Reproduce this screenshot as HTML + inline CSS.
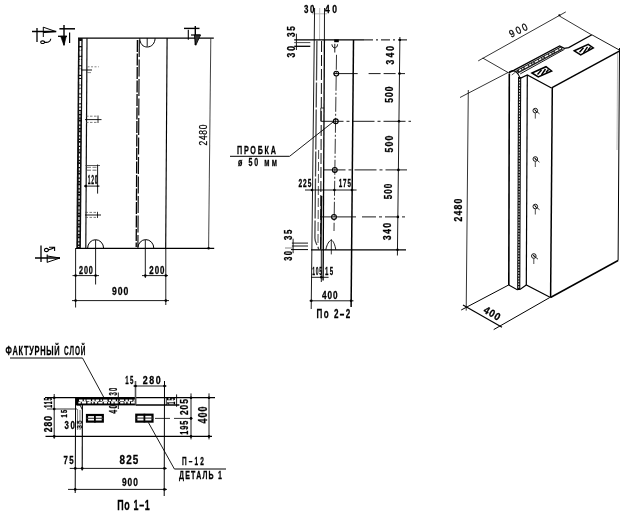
<!DOCTYPE html>
<html><head><meta charset="utf-8"><title>drawing</title>
<style>html,body{margin:0;padding:0;background:#fff;}body{width:640px;height:516px;overflow:hidden;}svg{display:block;font-family:"Liberation Sans",sans-serif;}</style>
</head><body>
<svg width="640" height="516" viewBox="0 0 640 516">
<rect x="0" y="0" width="640" height="516" fill="#fff"/>
<defs><filter id="soft" x="-5%" y="-5%" width="110%" height="110%"><feGaussianBlur stdDeviation="0.35"/></filter></defs>
<g filter="url(#soft)" stroke-linecap="butt">
<g id="v1">
<line x1="78" y1="38.2" x2="213.8" y2="38.2" stroke="#000" stroke-width="1.25"/>
<line x1="76" y1="248.3" x2="214.2" y2="248.3" stroke="#000" stroke-width="1.25"/>
<line x1="80.4" y1="38" x2="78.6" y2="248" stroke="#111" stroke-width="4.6"/>
<line x1="80.5" y1="41" x2="78.7" y2="247" stroke="#fff" stroke-width="1.1" stroke-dasharray="2.2 1.4 1 1.8 3 1.2"/>
<line x1="80.5" y1="41" x2="80.0" y2="110" stroke="#fff" stroke-width="1.6" stroke-dasharray="5 1.5 2 1"/>
<line x1="87.0" y1="38" x2="85.8" y2="248" stroke="#111" stroke-width="1.2"/>
<line x1="137.4" y1="40" x2="136.2" y2="247" stroke="#000" stroke-width="1.3" stroke-dasharray="12 1.5"/>
<line x1="139.3" y1="40" x2="137.9" y2="247" stroke="#111" stroke-width="1.2" stroke-dasharray="17 2.5"/>
<line x1="167.1" y1="38" x2="165.7" y2="248" stroke="#000" stroke-width="1.15"/>
<line x1="210.8" y1="38" x2="208.6" y2="248" stroke="#222" stroke-width="0.85"/>
<circle cx="208.6" cy="248.3" r="1.3" fill="#000"/>
<text transform="translate(207.4,145.5) rotate(-90) scale(0.8014838129496384,1)" x="0" y="0" font-size="10.43" font-weight="normal" fill="#000" stroke="#000" stroke-width="0.25" textLength="26.08" lengthAdjust="spacing">2480</text>
<path d="M139.7,38.2 C140,44 143,47 147.2,47 C152,47 155,43 155.1,38.2" stroke="#000" stroke-width="1.0" fill="none" />
<line x1="147.2" y1="38" x2="147.2" y2="46.5" stroke="#000" stroke-width="0.9"/>
<path d="M87.6,248.3 A8,8.6 0 0 1 103.6,248.3" stroke="#000" stroke-width="1.0" fill="none" />
<path d="M137.8,248.3 A8,8.7 0 0 1 153.8,248.3" stroke="#000" stroke-width="1.0" fill="none" />
<line x1="95.6" y1="240" x2="95.6" y2="284.5" stroke="#000" stroke-width="0.9"/>
<line x1="145.3" y1="240" x2="145.3" y2="278" stroke="#000" stroke-width="0.9"/>
<line x1="72.5" y1="275.6" x2="99" y2="275.6" stroke="#000" stroke-width="0.9"/>
<line x1="142" y1="275.6" x2="168" y2="275.6" stroke="#000" stroke-width="0.9"/>
<circle cx="75.6" cy="275.6" r="1.3" fill="#000"/>
<circle cx="95.6" cy="275.6" r="1.3" fill="#000"/>
<circle cx="145.3" cy="275.6" r="1.3" fill="#000"/>
<circle cx="165.8" cy="275.6" r="1.3" fill="#000"/>
<text transform="translate(79,274) scale(0.7144655704008221,1)" x="0" y="0" font-size="10.14" font-weight="bold" fill="#000" stroke="#000" stroke-width="0.3" textLength="19.46" lengthAdjust="spacing">200</text>
<text transform="translate(149.3,274) scale(0.7804162384378206,1)" x="0" y="0" font-size="10.14" font-weight="bold" fill="#000" stroke="#000" stroke-width="0.3" textLength="19.35" lengthAdjust="spacing">200</text>
<line x1="75.6" y1="248" x2="75.6" y2="307.5" stroke="#000" stroke-width="0.9"/>
<line x1="165.8" y1="248" x2="165.8" y2="305" stroke="#000" stroke-width="0.9"/>
<line x1="72" y1="300.6" x2="169" y2="300.6" stroke="#000" stroke-width="0.9"/>
<circle cx="75.6" cy="300.6" r="1.3" fill="#000"/>
<circle cx="165.8" cy="300.6" r="1.3" fill="#000"/>
<text transform="translate(112,295) scale(0.7744207231617315,1)" x="0" y="0" font-size="11.16" font-weight="bold" fill="#000" stroke="#000" stroke-width="0.3" textLength="21.18" lengthAdjust="spacing">900</text>
<line x1="81" y1="70" x2="92" y2="70" stroke="#000" stroke-width="0.9"/>
<line x1="87.5" y1="66.8" x2="98.8" y2="66.8" stroke="#555" stroke-width="0.7" stroke-dasharray="2 1.5"/>
<line x1="87" y1="72.6" x2="91" y2="72.6" stroke="#555" stroke-width="0.7"/>
<line x1="85" y1="119.6" x2="101.5" y2="119.6" stroke="#000" stroke-width="0.9"/>
<line x1="86" y1="116.2" x2="98" y2="116.2" stroke="#444" stroke-width="0.7" stroke-dasharray="2.5 1.5"/>
<line x1="86" y1="122.4" x2="98" y2="122.4" stroke="#444" stroke-width="0.7" stroke-dasharray="2.5 1.5"/>
<line x1="98" y1="115.5" x2="98" y2="123" stroke="#000" stroke-width="0.8"/>
<line x1="85.5" y1="165.5" x2="100" y2="165.5" stroke="#333" stroke-width="0.8"/>
<line x1="87" y1="167.3" x2="97.5" y2="167.3" stroke="#555" stroke-width="0.8" stroke-dasharray="4 1.5"/>
<line x1="87" y1="170.2" x2="97.5" y2="170.2" stroke="#444" stroke-width="0.8" stroke-dasharray="4 1.5"/>
<line x1="97.6" y1="164.5" x2="97.6" y2="193.6" stroke="#000" stroke-width="0.9"/>
<line x1="84" y1="186.1" x2="99.5" y2="186.1" stroke="#000" stroke-width="0.9"/>
<circle cx="85.8" cy="186.1" r="1.3" fill="#000"/>
<circle cx="97.6" cy="186.1" r="0.9" fill="#000"/>
<text transform="translate(87.8,183.7) scale(0.3935561895311344,1)" x="0" y="0" font-size="12.61" font-weight="bold" fill="#000" stroke="#000" stroke-width="0.3" textLength="24.90" lengthAdjust="spacing">120</text>
<line x1="85" y1="215" x2="101" y2="215" stroke="#000" stroke-width="0.9"/>
<line x1="85.5" y1="212.4" x2="97.5" y2="212.4" stroke="#444" stroke-width="0.7" stroke-dasharray="2.5 1.5"/>
<line x1="85.5" y1="217.4" x2="97.5" y2="217.4" stroke="#444" stroke-width="0.7" stroke-dasharray="2.5 1.5"/>
<line x1="97.5" y1="211.8" x2="97.5" y2="218" stroke="#000" stroke-width="0.8"/>
<line x1="32" y1="31.5" x2="56.3" y2="31.5" stroke="#000" stroke-width="1.5"/>
<line x1="37" y1="28" x2="37" y2="42" stroke="#000" stroke-width="1.3"/>
<path d="M43.3,27.2 L56,31.6 L43.3,32.6" stroke="#000" stroke-width="1.0" fill="none" />
<line x1="43.3" y1="27" x2="43.3" y2="37" stroke="#000" stroke-width="1.0"/>
<path d="M44.5,42.2 A1.9,1.1 0 1 0 40.8,42.2 A1.9,1.1 0 1 0 44.5,42.2 C47,42.6 50.5,42.6 50.8,38.8" stroke="#000" stroke-width="1.1" fill="none" />
<line x1="59.4" y1="28.8" x2="75" y2="28.8" stroke="#000" stroke-width="1.5"/>
<line x1="64" y1="25" x2="64" y2="45" stroke="#000" stroke-width="1.4"/>
<line x1="58" y1="36.3" x2="67" y2="36.3" stroke="#000" stroke-width="1.3"/>
<path d="M60.6,36.3 L66.3,36.3 L64,45.6 Z" stroke="#000" stroke-width="0.6" fill="#000" />
<line x1="69.6" y1="32.5" x2="69.6" y2="43" stroke="#000" stroke-width="1.2"/>
<line x1="184" y1="28.4" x2="199.5" y2="28.4" stroke="#000" stroke-width="1.4"/>
<line x1="195.3" y1="26" x2="195.3" y2="45" stroke="#000" stroke-width="1.4"/>
<line x1="188.3" y1="29.8" x2="188.3" y2="39.7" stroke="#000" stroke-width="1.1"/>
<line x1="191" y1="35" x2="200.5" y2="35" stroke="#000" stroke-width="1.2"/>
<path d="M194.4,35 L200.5,35 L195.8,45.3 Z" stroke="#000" stroke-width="0.8" fill="#333" />
<line x1="41" y1="245.6" x2="41" y2="262" stroke="#000" stroke-width="1.3"/>
<line x1="35" y1="258" x2="60" y2="258" stroke="#000" stroke-width="1.5"/>
<line x1="47.2" y1="254.4" x2="47.2" y2="262.5" stroke="#000" stroke-width="1.1"/>
<path d="M47.2,256 L60,258 L47.2,262.3" stroke="#000" stroke-width="1.0" fill="none" />
<path d="M48.2,250 A1.9,1.2 0 1 0 44.6,250 A1.9,1.2 0 1 0 48.2,250 C50,249.5 53,249 54.4,247.2 M49,247.2 L54.6,247.2 L54.6,251" stroke="#000" stroke-width="1.1" fill="none" />
</g>
<g id="v2">
<text transform="translate(304,13) scale(0.7831641829393627,1)" x="0" y="0" font-size="10.14" font-weight="bold" fill="#000" stroke="#000" stroke-width="0.3" textLength="13.28" lengthAdjust="spacing">30</text>
<text transform="translate(325,13) scale(0.84,1)" x="0" y="0" font-size="10.14" font-weight="bold" fill="#000" stroke="#000" stroke-width="0.3" textLength="14.17" lengthAdjust="spacing">40</text>
<line x1="312" y1="13.8" x2="327" y2="13.8" stroke="#999" stroke-width="0.7"/>
<line x1="314.6" y1="8" x2="311.2" y2="309" stroke="#000" stroke-width="0.9"/>
<line x1="319.7" y1="8" x2="319.5" y2="40" stroke="#aaa" stroke-width="0.8"/>
<line x1="324.5" y1="8" x2="324.4" y2="40" stroke="#000" stroke-width="0.9"/>
<line x1="294.2" y1="39.9" x2="364" y2="39.9" stroke="#000" stroke-width="1.25"/>
<line x1="364" y1="39.9" x2="407" y2="39.9" stroke="#000" stroke-width="1.0" stroke-dasharray="9 3 2 3"/>
<path d="M316.9,40.5 L314.9,238 C315,244 317.5,244 318.7,249.5" stroke="#444" stroke-width="1.3" fill="none" stroke-dasharray="40 2 25 2" />
<line x1="318.6" y1="150" x2="318.0" y2="244" stroke="#222" stroke-width="0.8" stroke-dasharray="9 3"/>
<line x1="321.6" y1="41" x2="320.6" y2="249" stroke="#111" stroke-width="1.0" stroke-dasharray="11 3"/>
<line x1="324.4" y1="40" x2="323.1" y2="280.6" stroke="#000" stroke-width="1.3"/>
<line x1="321.3" y1="250" x2="321.3" y2="282" stroke="#000" stroke-width="0.9"/>
<line x1="321.5" y1="196" x2="320.8" y2="249.5" stroke="#111" stroke-width="1.6"/>
<path d="M324,108 L320.8,108 L320.8,121" stroke="#000" stroke-width="0.8" fill="none" />
<line x1="336.5" y1="54.8" x2="334.0" y2="231" stroke="#000" stroke-width="0.8" stroke-dasharray="15 2 2 2"/>
<circle cx="336.3" cy="73.6" r="2.4" fill="none" stroke="#000" stroke-width="1.15"/>
<circle cx="335.8" cy="121.3" r="2.4" fill="none" stroke="#000" stroke-width="1.15"/>
<circle cx="334.8" cy="169.9" r="2.4" fill="none" stroke="#000" stroke-width="1.15"/>
<circle cx="334.0" cy="216.9" r="2.4" fill="none" stroke="#000" stroke-width="1.15"/>
<rect x="334.2" y="39.4" width="4.6" height="2.8" fill="#000"/>
<path d="M331.9,44.3 C332.2,47 333.5,47.8 334.8,47.8 C336.2,47.8 337.3,47 337.6,44.3 M334.8,43.8 L334.8,52.5" stroke="#000" stroke-width="0.9" fill="none" />
<line x1="353.5" y1="39.9" x2="351.1" y2="307" stroke="#000" stroke-width="1.5"/>
<line x1="399.9" y1="37" x2="397.4" y2="255.5" stroke="#000" stroke-width="0.9"/>
<circle cx="399.9" cy="39.9" r="1.2" fill="#000"/>
<circle cx="399.5" cy="73.6" r="1.3" fill="#000"/>
<circle cx="399.0" cy="121.3" r="1.3" fill="#000"/>
<circle cx="398.4" cy="169.9" r="1.3" fill="#000"/>
<circle cx="397.9" cy="216.9" r="1.3" fill="#000"/>
<circle cx="397.5" cy="249.8" r="1.2" fill="#000"/>
<line x1="333.6" y1="73.6" x2="357.7" y2="73.6" stroke="#000" stroke-width="0.9"/>
<line x1="368.6" y1="73.6" x2="405" y2="73.6" stroke="#000" stroke-width="0.9" stroke-dasharray="12 3"/>
<line x1="321.5" y1="121.3" x2="411" y2="121.3" stroke="#000" stroke-width="0.9" stroke-dasharray="22 3 3 3"/>
<line x1="323.5" y1="169.9" x2="407" y2="169.9" stroke="#000" stroke-width="0.9" stroke-dasharray="22 3 3 3"/>
<line x1="320" y1="216.9" x2="356" y2="216.9" stroke="#000" stroke-width="0.9"/>
<line x1="362" y1="216.9" x2="406" y2="216.9" stroke="#000" stroke-width="0.9" stroke-dasharray="14 3 3 3"/>
<text transform="translate(393.8,64.4) rotate(-90) scale(0.84,1)" x="0" y="0" font-size="10.14" font-weight="bold" fill="#000" stroke="#000" stroke-width="0.3" textLength="21.90" lengthAdjust="spacing">340</text>
<text transform="translate(393.3,102.7) rotate(-90) scale(0.84,1)" x="0" y="0" font-size="10.14" font-weight="bold" fill="#000" stroke="#000" stroke-width="0.3" textLength="19.40" lengthAdjust="spacing">500</text>
<text transform="translate(392.6,152.4) rotate(-90) scale(0.84,1)" x="0" y="0" font-size="10.43" font-weight="bold" fill="#000" stroke="#000" stroke-width="0.3" textLength="20.12" lengthAdjust="spacing">500</text>
<text transform="translate(392.2,199.2) rotate(-90) scale(0.7854541366906481,1)" x="0" y="0" font-size="10.43" font-weight="bold" fill="#000" stroke="#000" stroke-width="0.3" textLength="19.86" lengthAdjust="spacing">500</text>
<text transform="translate(390.8,240.2) rotate(-90) scale(0.84,1)" x="0" y="0" font-size="10.58" font-weight="bold" fill="#000" stroke="#000" stroke-width="0.3" textLength="20.60" lengthAdjust="spacing">340</text>
<line x1="311" y1="249.8" x2="406" y2="249.8" stroke="#000" stroke-width="1.25"/>
<path d="M325.8,249.8 C327,244 329,241 331.3,240 C333.5,241 335,245 335.8,249.8" stroke="#000" stroke-width="0.9" fill="none" />
<line x1="331.3" y1="239.4" x2="331.3" y2="254.4" stroke="#000" stroke-width="0.8"/>
<text transform="translate(295.3,37) rotate(-90) scale(0.8078956834532374,1)" x="0" y="0" font-size="10.14" font-weight="bold" fill="#000" stroke="#000" stroke-width="0.3" textLength="13.24" lengthAdjust="spacing">35</text>
<text transform="translate(295.3,57.4) rotate(-90) scale(0.84,1)" x="0" y="0" font-size="10.14" font-weight="bold" fill="#000" stroke="#000" stroke-width="0.3" textLength="13.57" lengthAdjust="spacing">30</text>
<line x1="296.4" y1="33.7" x2="296.4" y2="50" stroke="#000" stroke-width="0.9"/>
<line x1="294.2" y1="42.6" x2="310.3" y2="42.6" stroke="#333" stroke-width="0.9"/>
<line x1="294.2" y1="46.3" x2="310.3" y2="46.3" stroke="#000" stroke-width="1.3"/>
<text transform="translate(291.6,240) rotate(-90) scale(0.7749203494347383,1)" x="0" y="0" font-size="10.14" font-weight="bold" fill="#000" stroke="#000" stroke-width="0.3" textLength="13.29" lengthAdjust="spacing">35</text>
<text transform="translate(291.6,260.8) rotate(-90) scale(0.733701181911614,1)" x="0" y="0" font-size="10.14" font-weight="bold" fill="#000" stroke="#000" stroke-width="0.3" textLength="13.36" lengthAdjust="spacing">30</text>
<line x1="293.1" y1="238.7" x2="293.1" y2="253.2" stroke="#000" stroke-width="0.9"/>
<line x1="291.9" y1="243.1" x2="308" y2="243.1" stroke="#000" stroke-width="0.9"/>
<line x1="291.9" y1="246" x2="308" y2="246" stroke="#000" stroke-width="0.9"/>
<line x1="285" y1="248" x2="293" y2="248" stroke="#555" stroke-width="0.7"/>
<line x1="291" y1="249.6" x2="308" y2="249.6" stroke="#000" stroke-width="1.0"/>
<line x1="305" y1="190" x2="356.6" y2="190" stroke="#000" stroke-width="0.9"/>
<circle cx="312.0" cy="190" r="1.3" fill="#000"/>
<circle cx="334.4" cy="190" r="1.3" fill="#000"/>
<circle cx="352.0" cy="190" r="1.3" fill="#000"/>
<text transform="translate(298.6,187.4) scale(0.6305005995203797,1)" x="0" y="0" font-size="10.43" font-weight="bold" fill="#000" stroke="#000" stroke-width="0.3" textLength="20.14" lengthAdjust="spacing">225</text>
<text transform="translate(338.8,187.4) scale(0.598441247002396,1)" x="0" y="0" font-size="10.43" font-weight="bold" fill="#000" stroke="#000" stroke-width="0.3" textLength="20.22" lengthAdjust="spacing">175</text>
<text transform="translate(312.3,275.2) scale(0.4505182695948513,1)" x="0" y="0" font-size="11.01" font-weight="bold" fill="#000" stroke="#000" stroke-width="0.3" textLength="21.75" lengthAdjust="spacing">105</text>
<text transform="translate(325,275.2) scale(0.554289331692544,1)" x="0" y="0" font-size="11.01" font-weight="bold" fill="#000" stroke="#000" stroke-width="0.3" textLength="14.79" lengthAdjust="spacing">15</text>
<line x1="311" y1="277.3" x2="328.6" y2="277.3" stroke="#000" stroke-width="0.9"/>
<circle cx="321.3" cy="277.3" r="1.3" fill="#000"/>
<text transform="translate(322,299.2) scale(0.7540359712230209,1)" x="0" y="0" font-size="10.87" font-weight="bold" fill="#000" stroke="#000" stroke-width="0.3" textLength="20.69" lengthAdjust="spacing">400</text>
<line x1="309.5" y1="300.8" x2="353.5" y2="300.8" stroke="#000" stroke-width="0.9"/>
<circle cx="311.3" cy="300.8" r="1.3" fill="#000"/>
<circle cx="351.1" cy="300.8" r="1.3" fill="#000"/>
<text transform="translate(316.6,317.8) scale(0.62,1)" x="0" y="0" font-size="13.04" font-weight="bold" fill="#000" stroke="#000" stroke-width="0.3" textLength="54.35" lengthAdjust="spacing">По 2–2</text>
<text transform="translate(237,153.7) scale(0.62,1)" x="0" y="0" font-size="11.59" font-weight="bold" fill="#000" stroke="#000" stroke-width="0.3" textLength="62.74" lengthAdjust="spacing">ПРОБКА</text>
<line x1="230" y1="156.3" x2="289.6" y2="156.3" stroke="#000" stroke-width="1.0"/>
<line x1="289.6" y1="156.3" x2="333.6" y2="121.6" stroke="#000" stroke-width="0.9"/>
<text transform="translate(238,166.2) scale(0.62,1)" x="0" y="0" font-size="11.45" font-weight="bold" fill="#000" stroke="#000" stroke-width="0.3" textLength="62.74" lengthAdjust="spacing">ø 50 мм</text>
</g>
<g id="v3">
<line x1="478.2" y1="60.9" x2="565.8" y2="11.9" stroke="#000" stroke-width="0.8"/>
<line x1="482.7" y1="58" x2="508" y2="72.5" stroke="#000" stroke-width="0.8"/>
<line x1="559.9" y1="16.3" x2="591.7" y2="34.9" stroke="#000" stroke-width="0.8"/>
<text transform="translate(518.3,30.3) rotate(-26) scale(0.85,1)" x="-11.18" y="3.60" font-size="10.43" font-weight="normal" fill="#000" stroke="#000" stroke-width="0.3" textLength="22.35" lengthAdjust="spacing">900</text>
<circle cx="559.4" cy="15.3" r="1.1" fill="#000"/>
<line x1="460" y1="97.5" x2="508" y2="72.5" stroke="#000" stroke-width="0.8"/>
<line x1="468.3" y1="90" x2="466.2" y2="310.6" stroke="#000" stroke-width="0.8"/>
<text transform="translate(462.3,221.6) rotate(-90) scale(0.84,1)" x="0" y="0" font-size="10.29" font-weight="bold" fill="#000" stroke="#000" stroke-width="0.3" textLength="27.14" lengthAdjust="spacing">2480</text>
<line x1="463" y1="304.9" x2="502" y2="327.2" stroke="#000" stroke-width="1.2"/>
<line x1="461.2" y1="310" x2="509" y2="284.8" stroke="#000" stroke-width="1.0"/>
<line x1="493.7" y1="329.6" x2="549.8" y2="297.5" stroke="#000" stroke-width="1.0"/>
<text transform="translate(492,313.3) rotate(31) scale(0.9,1)" x="-9.72" y="3.60" font-size="10.43" font-weight="bold" fill="#000" stroke="#000" stroke-width="0.3" textLength="19.44" lengthAdjust="spacing">400</text>
<path d="M508.7,72.8 L514.2,70.1 L559.6,46.0 L564.3,48.4 L568.7,47.6 L591.9,34.8" stroke="#000" stroke-width="1.3" fill="none" />
<path d="M591.9,34.8 L619.3,50" stroke="#000" stroke-width="0.9" fill="none" />
<path d="M551.6,87.8 L619.3,51.2" stroke="#000" stroke-width="1.5" fill="none" />
<path d="M508.7,72.8 C510,70.8 514,70.3 516,71.6 C518,73.5 519.5,76 520.2,78.3 L527.3,75 L551.5,88" stroke="#000" stroke-width="1.2" fill="none" />
<path d="M511.8,75 L517.5,70.5" stroke="#333" stroke-width="0.8" fill="none" />
<path d="M517.2,71.8 L562,47.8" stroke="#222" stroke-width="3.8" fill="none" />
<path d="M519,70.6 L561,48.2" stroke="#fff" stroke-width="1.3" fill="none" stroke-dasharray="2.5 1.2 1.2 1.5 4 1" />
<path d="M520.2,73.9 L564.5,49.3" stroke="#000" stroke-width="0.9" fill="none" />
<path d="M532,73 L546,66.7 L551.6,71 L538.3,76.9 Z" stroke="#000" stroke-width="1.5" fill="none" />
<path d="M574.3,50.8 L588.2,44.3 L593.3,48 L580.7,54.9 Z" stroke="#000" stroke-width="1.5" fill="none" />
<path d="M537.5,74.5 L541.5,70 M541.5,75 L545.5,69 M546,72.5 L548.5,69.5" stroke="#000" stroke-width="1.4" fill="none" />
<path d="M579.5,52.2 L583.5,47.8 M583.5,52.8 L587.5,46.8 M588,50 L590.5,47.2" stroke="#000" stroke-width="1.4" fill="none" />
<line x1="509.3" y1="73.5" x2="508.8" y2="285" stroke="#000" stroke-width="1.6"/>
<line x1="519.6" y1="77" x2="518.7" y2="289.6" stroke="#111" stroke-width="3.2"/>
<line x1="519.6" y1="79" x2="518.7" y2="288.6" stroke="#fff" stroke-width="0.9" stroke-dasharray="1.6 1.2"/>
<line x1="527.3" y1="75" x2="526.3" y2="285" stroke="#000" stroke-width="1.2"/>
<line x1="552.3" y1="88" x2="550.6" y2="297.5" stroke="#000" stroke-width="1.5"/>
<line x1="619.5" y1="48" x2="618.1" y2="260.5" stroke="#000" stroke-width="1.0"/>
<line x1="617.6" y1="52.5" x2="617.0" y2="150" stroke="#777" stroke-width="0.5"/>
<path d="M508.8,285 L517.2,289.8 L520.3,289.3 L526.3,285 L550.5,297.5" stroke="#000" stroke-width="1.1" fill="none" />
<path d="M550.5,297.5 L618.1,260.5" stroke="#000" stroke-width="1.5" fill="none" />
<circle cx="535.3" cy="110.6" r="2.3" fill="none" stroke="#000" stroke-width="0.9"/>
<line x1="534.3" y1="109.6" x2="539.5" y2="113.8" stroke="#000" stroke-width="0.8"/>
<line x1="535.3" y1="113.1" x2="535.3" y2="118.6" stroke="#000" stroke-width="0.7"/>
<line x1="535.0" y1="109.39999999999999" x2="535.9" y2="111.6" stroke="#000" stroke-width="0.8"/>
<circle cx="535.3" cy="159" r="2.3" fill="none" stroke="#000" stroke-width="0.9"/>
<line x1="534.3" y1="158" x2="539.5" y2="162.2" stroke="#000" stroke-width="0.8"/>
<line x1="535.3" y1="161.5" x2="535.3" y2="167" stroke="#000" stroke-width="0.7"/>
<line x1="535.0" y1="157.8" x2="535.9" y2="160" stroke="#000" stroke-width="0.8"/>
<circle cx="535.3" cy="206.5" r="2.3" fill="none" stroke="#000" stroke-width="0.9"/>
<line x1="534.3" y1="205.5" x2="539.5" y2="209.7" stroke="#000" stroke-width="0.8"/>
<line x1="535.3" y1="209.0" x2="535.3" y2="214.5" stroke="#000" stroke-width="0.7"/>
<line x1="535.0" y1="205.3" x2="535.9" y2="207.5" stroke="#000" stroke-width="0.8"/>
<circle cx="533.8" cy="256" r="2.3" fill="none" stroke="#000" stroke-width="0.9"/>
<line x1="532.8" y1="255" x2="538.0" y2="259.2" stroke="#000" stroke-width="0.8"/>
<line x1="533.8" y1="258.5" x2="533.8" y2="264" stroke="#000" stroke-width="0.7"/>
<line x1="533.5" y1="254.8" x2="534.4" y2="257" stroke="#000" stroke-width="0.8"/>
</g>
<g id="v4">
<text transform="translate(5.5,355.2) scale(0.55820945945946,1)" x="0" y="0" font-size="13.33" font-weight="bold" fill="#000" stroke="#000" stroke-width="0.3" textLength="97.10" lengthAdjust="spacing">ФАКТУРНЫЙ</text>
<text transform="translate(64,355.2) scale(0.48542229729729774,1)" x="0" y="0" font-size="13.33" font-weight="bold" fill="#000" stroke="#000" stroke-width="0.3" textLength="44.29" lengthAdjust="spacing">СЛОЙ</text>
<line x1="10" y1="358" x2="82.5" y2="358" stroke="#000" stroke-width="1.0"/>
<line x1="82.5" y1="358" x2="103.6" y2="397" stroke="#000" stroke-width="0.9"/>
<line x1="45" y1="397.7" x2="215" y2="397.7" stroke="#000" stroke-width="1.25"/>
<line x1="45.5" y1="436.4" x2="212" y2="436.4" stroke="#000" stroke-width="1.25"/>
<rect x="75.6" y="397" width="60.6" height="8.4" fill="#000"/>
<line x1="79" y1="400.3" x2="135.4" y2="400.3" stroke="#fff" stroke-width="1.7" stroke-dasharray="3.6 1.2 1.8 0.9 4.4 1.3 2.4 1"/>
<line x1="78.4" y1="402.7" x2="135.4" y2="402.7" stroke="#fff" stroke-width="1.7" stroke-dasharray="2.4 1 4.4 1.2 3.4 0.9 1.8 1.3"/>
<line x1="80" y1="401.5" x2="135" y2="401.5" stroke="#fff" stroke-width="0.7" stroke-dasharray="6 3 9 4"/>
<line x1="136" y1="405" x2="179.4" y2="405" stroke="#000" stroke-width="1.5"/>
<line x1="166.3" y1="398" x2="166.3" y2="405" stroke="#000" stroke-width="0.8"/>
<line x1="135.5" y1="381" x2="135.5" y2="404.7" stroke="#555" stroke-width="1.6"/>
<line x1="164.5" y1="381" x2="164.2" y2="496" stroke="#000" stroke-width="1.0"/>
<line x1="75.6" y1="397.5" x2="75.2" y2="493" stroke="#000" stroke-width="1.0"/>
<line x1="82.4" y1="404" x2="82.2" y2="470.6" stroke="#000" stroke-width="1.1"/>
<path d="M77,405 L80,405 L82.3,409.5" stroke="#000" stroke-width="0.9" fill="none" />
<path d="M77.6,409 L77.6,430 M80,410 L80,430" stroke="#444" stroke-width="0.7" fill="none" />
<line x1="54.2" y1="394" x2="54.2" y2="438.8" stroke="#000" stroke-width="0.9"/>
<circle cx="54.2" cy="397.7" r="1.3" fill="#000"/>
<circle cx="54.2" cy="409" r="1.3" fill="#000"/>
<circle cx="54.2" cy="436.4" r="1.3" fill="#000"/>
<line x1="47" y1="409" x2="77" y2="409" stroke="#000" stroke-width="0.8"/>
<text transform="translate(52.4,407.8) rotate(-90) scale(0.5129496402877692,1)" x="0" y="0" font-size="10.00" font-weight="bold" fill="#000" stroke="#000" stroke-width="0.3" textLength="19.69" lengthAdjust="spacing">115</text>
<text transform="translate(52.3,432.2) rotate(-90) scale(0.84,1)" x="0" y="0" font-size="10.14" font-weight="bold" fill="#000" stroke="#000" stroke-width="0.3" textLength="19.40" lengthAdjust="spacing">280</text>
<text transform="translate(66.7,417.6) rotate(-90) scale(0.6029072264576396,1)" x="0" y="0" font-size="9.71" font-weight="bold" fill="#000" stroke="#000" stroke-width="0.3" textLength="13.10" lengthAdjust="spacing">15</text>
<text transform="translate(64.6,428.8) scale(0.7533947841726635,1)" x="0" y="0" font-size="10.43" font-weight="bold" fill="#000" stroke="#000" stroke-width="0.3" textLength="13.67" lengthAdjust="spacing">30</text>
<text transform="translate(81.6,428.5) rotate(-90) scale(0.84,1)" x="0" y="0" font-size="6.96" font-weight="normal" fill="#000" stroke="#000" stroke-width="0.3" textLength="9.40" lengthAdjust="spacing">35</text>
<rect x="87.0" y="415.0" width="15.8" height="6.6" fill="#fff" stroke="#000" stroke-width="2.2"/>
<line x1="86.3" y1="418.3" x2="103.3" y2="418.3" stroke="#333" stroke-width="1.1"/>
<line x1="94.9" y1="414" x2="94.9" y2="422.6" stroke="#000" stroke-width="1.8"/>
<rect x="136.3" y="414.7" width="16.2" height="6.9" fill="#fff" stroke="#000" stroke-width="2.2"/>
<line x1="135.6" y1="418.1" x2="153.2" y2="418.1" stroke="#333" stroke-width="1.1"/>
<line x1="144.4" y1="413.8" x2="144.4" y2="422.4" stroke="#000" stroke-width="1.8"/>
<line x1="155" y1="418.4" x2="170" y2="418.4" stroke="#000" stroke-width="0.8"/>
<line x1="174" y1="418.4" x2="192.5" y2="418.4" stroke="#000" stroke-width="0.8"/>
<text transform="translate(116.5,395.6) rotate(-90) scale(0.5533532078446832,1)" x="0" y="0" font-size="10.58" font-weight="bold" fill="#000" stroke="#000" stroke-width="0.3" textLength="14.28" lengthAdjust="spacing">30</text>
<text transform="translate(116.5,413.6) rotate(-90) scale(0.6165935744555051,1)" x="0" y="0" font-size="10.58" font-weight="bold" fill="#000" stroke="#000" stroke-width="0.3" textLength="14.11" lengthAdjust="spacing">40</text>
<line x1="118.3" y1="392.5" x2="118.3" y2="409" stroke="#000" stroke-width="0.9"/>
<text transform="translate(125.2,384) scale(0.5770683453237399,1)" x="0" y="0" font-size="10.58" font-weight="bold" fill="#000" stroke="#000" stroke-width="0.3" textLength="14.21" lengthAdjust="spacing">15</text>
<text transform="translate(142.8,384) scale(0.84,1)" x="0" y="0" font-size="10.58" font-weight="bold" fill="#000" stroke="#000" stroke-width="0.3" textLength="21.19" lengthAdjust="spacing">280</text>
<line x1="133.4" y1="386" x2="166.5" y2="386" stroke="#000" stroke-width="0.9"/>
<circle cx="135.5" cy="386" r="1.3" fill="#000"/>
<circle cx="164.5" cy="386" r="1.3" fill="#000"/>
<text transform="translate(175.4,404.6) rotate(-90) scale(0.5111176772867457,1)" x="0" y="0" font-size="10.14" font-weight="bold" fill="#000" stroke="#000" stroke-width="0.3" textLength="13.89" lengthAdjust="spacing">15</text>
<line x1="176.6" y1="394.4" x2="176.6" y2="406.8" stroke="#000" stroke-width="0.9"/>
<line x1="191" y1="393.4" x2="191" y2="439.4" stroke="#000" stroke-width="0.9"/>
<line x1="209" y1="393.4" x2="209" y2="439.4" stroke="#000" stroke-width="0.9"/>
<circle cx="191" cy="397.7" r="1.3" fill="#000"/>
<circle cx="191" cy="418.4" r="1.3" fill="#000"/>
<circle cx="191" cy="436.4" r="1.3" fill="#000"/>
<circle cx="209" cy="397.7" r="1.3" fill="#000"/>
<circle cx="209" cy="436.4" r="1.3" fill="#000"/>
<text transform="translate(188.4,415) rotate(-90) scale(0.8014838129496384,1)" x="0" y="0" font-size="10.43" font-weight="bold" fill="#000" stroke="#000" stroke-width="0.3" textLength="19.84" lengthAdjust="spacing">205</text>
<text transform="translate(188.4,434.7) rotate(-90) scale(0.6999625299760157,1)" x="0" y="0" font-size="10.43" font-weight="bold" fill="#000" stroke="#000" stroke-width="0.3" textLength="20.00" lengthAdjust="spacing">195</text>
<text transform="translate(207.4,423.4) rotate(-90) scale(0.7459663976136136,1)" x="0" y="0" font-size="11.88" font-weight="bold" fill="#000" stroke="#000" stroke-width="0.3" textLength="22.52" lengthAdjust="spacing">400</text>
<text transform="translate(63.4,464.4) scale(0.6954413392363071,1)" x="0" y="0" font-size="11.30" font-weight="bold" fill="#000" stroke="#000" stroke-width="0.3" textLength="14.81" lengthAdjust="spacing">75</text>
<text transform="translate(119.6,464.2) scale(0.815223535457351,1)" x="0" y="0" font-size="12.17" font-weight="bold" fill="#000" stroke="#000" stroke-width="0.3" textLength="22.94" lengthAdjust="spacing">825</text>
<line x1="69.7" y1="468.4" x2="166.8" y2="468.4" stroke="#000" stroke-width="0.9"/>
<circle cx="75.3" cy="468.4" r="1.3" fill="#000"/>
<circle cx="82.2" cy="468.4" r="1.3" fill="#000"/>
<circle cx="164.5" cy="468.4" r="1.3" fill="#000"/>
<text transform="translate(122,486.2) scale(0.7494394095113531,1)" x="0" y="0" font-size="11.16" font-weight="bold" fill="#000" stroke="#000" stroke-width="0.3" textLength="21.22" lengthAdjust="spacing">900</text>
<line x1="68" y1="489.4" x2="167" y2="489.4" stroke="#000" stroke-width="0.9"/>
<circle cx="75.2" cy="489.4" r="1.3" fill="#000"/>
<circle cx="164.5" cy="489.4" r="1.3" fill="#000"/>
<text transform="translate(117.3,509.8) scale(0.6151415094339626,1)" x="0" y="0" font-size="14.49" font-weight="bold" fill="#000" stroke="#000" stroke-width="0.3" textLength="52.67" lengthAdjust="spacing">По 1–1</text>
<line x1="148.4" y1="422.5" x2="174.4" y2="469" stroke="#000" stroke-width="0.9"/>
<line x1="174.4" y1="469" x2="226" y2="469" stroke="#000" stroke-width="1.0"/>
<text transform="translate(182,465.4) scale(0.62,1)" x="0" y="0" font-size="10.43" font-weight="bold" fill="#000" stroke="#000" stroke-width="0.3" textLength="35.32" lengthAdjust="spacing">П–12</text>
<text transform="translate(179,479.4) scale(0.62,1)" x="0" y="0" font-size="11.30" font-weight="bold" fill="#000" stroke="#000" stroke-width="0.3" textLength="69.19" lengthAdjust="spacing">ДЕТАЛЬ 1</text>
</g>
</g></svg></body></html>
